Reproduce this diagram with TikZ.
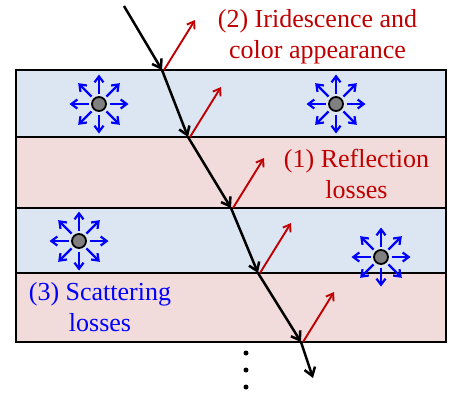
\documentclass[tikz,border=0pt]{standalone}
\usepackage{fontspec}
\setmainfont{Liberation Serif}
\usetikzlibrary{arrows.meta,calc}
\definecolor{layerblue}{HTML}{DCE6F2}
\definecolor{layerpink}{HTML}{F2DCDB}
\definecolor{redtxt}{HTML}{C00000}
\definecolor{bluetxt}{HTML}{0000FF}
\tikzset{
  layerA/.style={draw=black, line width=2pt, fill=layerblue},
  layerB/.style={draw=black, line width=2pt, fill=layerpink},
  ray/.style={line width=2.5pt, -{Straight Barb[length=8pt,width=11pt]}},
  refl/.style={draw=redtxt, line width=1.9pt, -{Straight Barb[length=6.5pt,width=9pt]}},
  scat/.style={draw=bluetxt, line width=2.2pt, -{Straight Barb[length=6pt,width=9pt]}},
  particle/.style={circle, draw=black, line width=1.8pt, fill=gray, minimum size=14pt, inner sep=0pt},
  lbl/.style={font=\fontsize{26}{30}\selectfont, anchor=base, inner sep=0pt},
  dotnode/.style={circle, fill=black, minimum size=5pt, inner sep=0pt}
}
\begin{document}
\begin{tikzpicture}[x=1pt,y=-1pt]
\useasboundingbox (0,0) rectangle (449,392);
% layers
\draw[layerA] (16,70) rectangle (446,137);
\draw[layerB] (16,137) rectangle (446,208);
\draw[layerA] (16,208) rectangle (446,273);
\draw[layerB] (16,273) rectangle (446,342);
% ray points
\coordinate (p0) at (124,6);
\coordinate (p1) at (162,70);
\coordinate (p2) at (188,137);
\coordinate (p3) at (231,208);
\coordinate (p4) at (258,273);
\coordinate (p5) at (301,342);
\coordinate (p6) at (313,378);
% reflected arrows
\foreach \i in {1,...,5}{
  \coordinate (q\i) at ($(p\i)+(2,0)$);
  \coordinate (r\i) at ($(q\i)+(31,-50)$);
  \draw[refl] (q\i) -- (r\i);
}
\draw[ray] (p0) -- (p1);
\draw[ray] (p1) -- (p2);
\draw[ray] (p2) -- (p3);
\draw[ray] (p3) -- (p4);
\draw[ray] (p4) -- (p5);
\draw[ray] (p5) -- (p6);
% scatterers
\node[particle] (s1) at (99,104) {};
\node[particle] (s2) at (336,104) {};
\node[particle] (s3) at (79,241) {};
\node[particle] (s4) at (381,257) {};
\foreach \s in {s1,s2,s3,s4}{
  \foreach \a in {0,45,...,315}{
    \draw[scat] ($(\s)+(\a:10.5)$) -- ($(\s)+(\a:29.5)$);
  }
}
% labels
\node[lbl, text=redtxt] (t2a) at (317.5,27) {(2) Iridescence and};
\node[lbl, text=redtxt] (t2b) at (317.5,58) {color appearance};
\node[lbl, text=redtxt] (t1a) at (356.5,167) {(1) Reflection};
\node[lbl, text=redtxt] (t1b) at (356.5,198) {losses};
\node[lbl, text=bluetxt] (t3a) at (100,300) {(3) Scattering};
\node[lbl, text=bluetxt] (t3b) at (100,331) {losses};
% continuation dots
\node[dotnode] (d1) at (246,353) {};
\node[dotnode] (d2) at (246,370) {};
\node[dotnode] (d3) at (246,387) {};
\end{tikzpicture}
\end{document}
